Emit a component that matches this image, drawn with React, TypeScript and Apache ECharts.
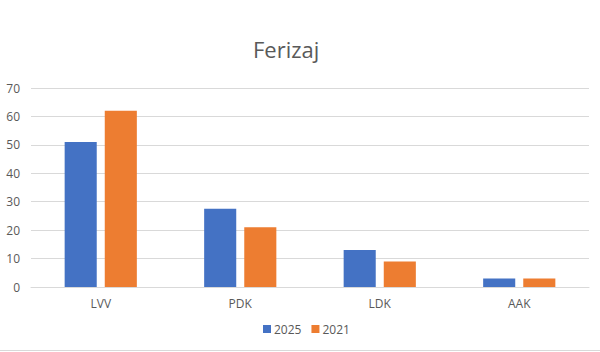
import React, { useEffect, useRef } from "react";
import * as echarts from "echarts";

const categories = ["LVV", "PDK", "LDK", "AAK"];
const series2025 = [51, 27.5, 13, 3];
const series2021 = [62, 21, 9, 3];
const seriesNames = ["2025", "2021"];
const titleText = "Ferizaj";

export default function App() {
  const ref = useRef<HTMLDivElement>(null);
  useEffect(() => {
    if (!ref.current) return;
    const chart = echarts.init(ref.current, null, { renderer: "svg" });
    const font = "'Open Sans', sans-serif";
    chart.setOption({
      animation: false,
      backgroundColor: "#ffffff",
      title: {
        text: titleText,
        left: 248,
        top: 33,
        textStyle: { color: "#595959", fontSize: 22, fontWeight: "normal", fontFamily: font },
      },
      legend: {
        data: seriesNames,
        bottom: 12,
        left: 258,
        itemWidth: 8,
        itemHeight: 8,
        itemGap: 10,
        icon: "rect",
        textStyle: { color: "#595959", fontSize: 12, fontFamily: font, padding: [0, 0, 0, -2] },
      },
      grid: { left: 31, right: 11, top: 88, bottom: 65, containLabel: false },
      xAxis: {
        type: "category",
        data: categories,
        axisLine: { lineStyle: { color: "#D9D9D9", width: 1 } },
        axisTick: { show: false },
        axisLabel: { color: "#595959", fontSize: 12, fontFamily: font, margin: 10 },
      },
      yAxis: {
        type: "value",
        min: 0,
        max: 70,
        interval: 10,
        axisLine: { show: false },
        axisTick: { show: false },
        splitLine: { lineStyle: { color: "#D9D9D9", width: 1 } },
        axisLabel: { color: "#595959", fontSize: 12, fontFamily: font, margin: 11 },
      },
      series: [
        {
          name: seriesNames[0],
          type: "bar",
          data: series2025,
          barWidth: "23%",
          barGap: "25%",
          itemStyle: { color: "#4472C4" },
        },
        {
          name: seriesNames[1],
          type: "bar",
          data: series2021,
          barWidth: "23%",
          barGap: "25%",
          itemStyle: { color: "#ED7D31" },
        },
      ],
      graphic: [
        {
          type: "line",
          shape: { x1: 0, y1: 350.5, x2: 600, y2: 350.5 },
          style: { stroke: "#D9D9D9", lineWidth: 1 },
        },
      ],
    });
    return () => chart.dispose();
  }, []);
  return (
    <div
      ref={ref}
      style={{ width: 600, height: 352, position: "fixed", left: 0, top: 0 }}
    />
  );
}
